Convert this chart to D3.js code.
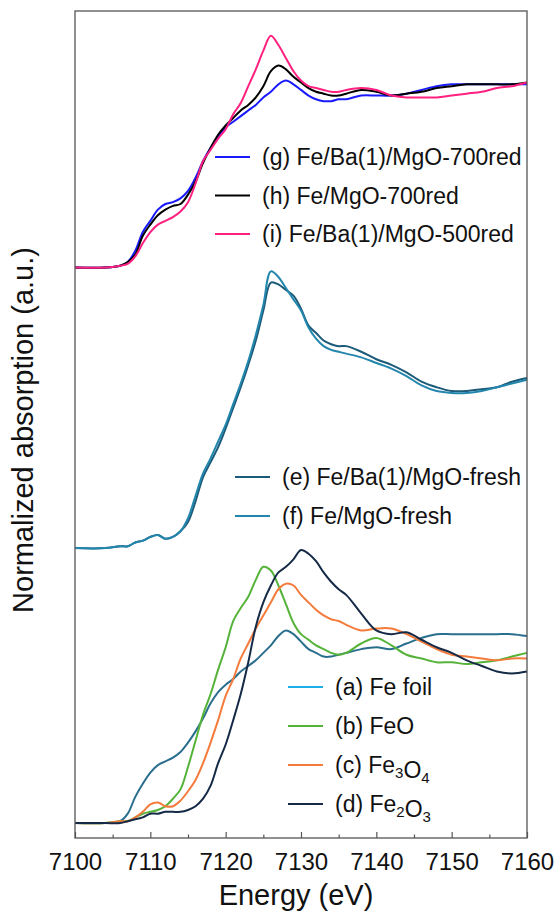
<!DOCTYPE html>
<html>
<head>
<meta charset="utf-8">
<script src="https://cdn.jsdelivr.net/npm/d3@7"></script>
<style>
  body { margin: 0; background: #fff; }
  text { font-family: Arial, "Liberation Sans", sans-serif; fill: #111; }
</style>
</head>
<body>
<div id="chart"></div>
<script>
// energy grid (eV) shared by every spectrum
var energy = [7100,7104,7106,7107,7108,7109,7110,7111,7112,7113,7114,7115,7116,7117,7118,7119,7120,7121,7122,7123,7124,7125,7126,7127,7128,7129,7130,7131,7132,7133,7134,7135,7136,7138,7140,7142,7144,7146,7148,7150,7152,7154,7156,7158,7160];

// bottom group: references
var feFoil = [0.00,0.00,0.01,0.05,0.14,0.21,0.27,0.31,0.33,0.35,0.38,0.43,0.49,0.56,0.64,0.70,0.74,0.77,0.81,0.84,0.87,0.91,0.95,1.00,1.03,1.01,0.97,0.93,0.91,0.89,0.89,0.90,0.91,0.93,0.94,0.93,0.96,0.99,1.01,1.01,1.01,1.01,1.01,1.01,1.00];
var feO = [0.00,0.00,0.01,0.01,0.03,0.05,0.06,0.07,0.09,0.13,0.18,0.30,0.44,0.58,0.69,0.82,0.94,1.08,1.15,1.21,1.30,1.37,1.35,1.27,1.17,1.07,1.01,0.98,0.95,0.93,0.91,0.90,0.91,0.96,0.99,0.95,0.90,0.88,0.86,0.86,0.85,0.86,0.87,0.89,0.91];
var fe3O4 = [0.00,0.00,0.01,0.01,0.03,0.06,0.10,0.11,0.09,0.09,0.12,0.17,0.23,0.32,0.43,0.55,0.68,0.77,0.88,0.96,1.04,1.11,1.18,1.25,1.28,1.27,1.22,1.18,1.14,1.11,1.09,1.08,1.06,1.03,1.04,1.04,1.01,0.97,0.93,0.90,0.89,0.88,0.87,0.88,0.88];
var fe2O3 = [0.00,0.00,0.00,0.01,0.02,0.03,0.05,0.05,0.06,0.06,0.06,0.07,0.09,0.13,0.20,0.32,0.42,0.55,0.69,0.86,1.05,1.18,1.27,1.34,1.37,1.41,1.46,1.44,1.40,1.34,1.29,1.25,1.22,1.12,1.03,1.01,1.02,0.98,0.94,0.91,0.87,0.84,0.81,0.80,0.81];

// middle group: fresh catalysts
var freshBaMg = [0.00,0.00,0.01,0.01,0.03,0.04,0.06,0.07,0.05,0.06,0.09,0.14,0.25,0.38,0.46,0.54,0.64,0.75,0.86,0.98,1.11,1.27,1.42,1.41,1.38,1.35,1.28,1.19,1.15,1.11,1.09,1.08,1.08,1.05,1.01,0.98,0.94,0.89,0.86,0.84,0.84,0.85,0.86,0.89,0.91];
var freshMg = [0.00,0.00,0.01,0.01,0.03,0.04,0.06,0.07,0.05,0.06,0.09,0.16,0.28,0.40,0.48,0.57,0.66,0.77,0.88,1.00,1.14,1.30,1.48,1.45,1.39,1.33,1.27,1.18,1.12,1.08,1.06,1.05,1.04,1.02,0.99,0.96,0.92,0.87,0.84,0.83,0.83,0.84,0.86,0.88,0.90];

// top group: reduced catalysts
var red700BaMg = [0.00,0.00,0.01,0.03,0.09,0.19,0.25,0.31,0.34,0.35,0.37,0.41,0.48,0.57,0.64,0.70,0.75,0.78,0.81,0.84,0.87,0.91,0.94,0.98,1.00,0.98,0.95,0.92,0.90,0.89,0.89,0.90,0.90,0.92,0.92,0.92,0.93,0.95,0.97,0.98,0.98,0.98,0.98,0.98,0.98];
var red700Mg = [0.00,0.00,0.01,0.03,0.07,0.17,0.23,0.28,0.31,0.33,0.34,0.39,0.46,0.56,0.64,0.71,0.76,0.80,0.84,0.87,0.91,0.97,1.05,1.08,1.06,1.02,0.99,0.96,0.94,0.93,0.92,0.92,0.93,0.95,0.94,0.92,0.93,0.94,0.96,0.97,0.98,0.98,0.98,0.98,0.99];
var red500BaMg = [0.00,0.00,0.01,0.02,0.06,0.13,0.19,0.23,0.25,0.27,0.30,0.35,0.45,0.57,0.63,0.69,0.74,0.82,0.88,0.97,1.06,1.16,1.24,1.19,1.12,1.05,1.00,0.97,0.96,0.95,0.94,0.94,0.95,0.96,0.95,0.92,0.91,0.91,0.91,0.92,0.93,0.94,0.96,0.97,0.99];

// vertical offsets of the three stacks
var offsets = [0, 1.47, 2.97];

var xTicks = [7100, 7110, 7120, 7130, 7140, 7150, 7160];

// legend labels ("_n" = subscript)
var labelsRed = ["(g) Fe/Ba(1)/MgO-700red", "(h) Fe/MgO-700red", "(i) Fe/Ba(1)/MgO-500red"];
var labelsFresh = ["(e) Fe/Ba(1)/MgO-fresh", "(f) Fe/MgO-fresh"];
var labelsRef = ["(a) Fe foil", "(b) FeO", "(c) Fe_3O_4", "(d) Fe_2O_3"];

var colRed = ["#1a1aff", "#000000", "#ff2080"];
var colFresh = ["#1b5a78", "#2386ad"];
var colRef = ["#2a6e8e", "#55b339", "#f47b3b", "#152a47"];
var colRefLegend = ["#1cb0ea", "#55b339", "#f47b3b", "#152a47"];

var margin = {top: 11, right: 31, bottom: 78, left: 75},
    W = 558, H = 916,
    width = W - margin.left - margin.right,
    height = H - margin.top - margin.bottom;

var svg = d3.select("#chart").append("svg")
  .attr("width", W).attr("height", H)
  .append("g")
  .attr("transform", "translate(" + margin.left + "," + margin.top + ")");

var x = d3.scaleLinear().domain([7100, 7160]).range([0, width]);
var y = d3.scaleLinear().domain([-0.08, 4.342]).range([height, 0]);

var line = d3.line()
  .curve(d3.curveCatmullRom.alpha(0.5))
  .x(function(d) { return x(d[0]); })
  .y(function(d) { return y(d[1]); });

function drawGroup(seriesList, colors, off) {
  seriesList.forEach(function(s, k) {
    var pts = energy.map(function(e, i) { return [e, s[i] + off]; });
    svg.append("path")
      .datum(pts)
      .attr("fill", "none")
      .attr("stroke", colors[k])
      .attr("stroke-width", 2)
      .attr("stroke-linejoin", "round")
      .attr("d", line);
  });
}

drawGroup([feFoil, feO, fe3O4, fe2O3], colRef, offsets[0]);
drawGroup([freshBaMg, freshMg], colFresh, offsets[1]);
drawGroup([red700BaMg, red700Mg, red500BaMg], colRed, offsets[2]);

// frame
svg.append("rect")
  .attr("x", 0).attr("y", 0)
  .attr("width", width).attr("height", height)
  .attr("fill", "none")
  .attr("stroke", "#555")
  .attr("stroke-width", 1.3);

// bottom axis, inward ticks
var xAxis = svg.append("g")
  .attr("transform", "translate(0," + height + ")")
  .call(d3.axisBottom(x).tickValues(xTicks).tickSize(-6).tickPadding(15).tickFormat(d3.format("d")));
xAxis.select(".domain").remove();
xAxis.selectAll(".tick line").attr("stroke", "#555").attr("stroke-width", 1.2);
xAxis.selectAll(".tick text")
  .style("font-size", "24px")
  .attr("fill", "#111");

var minor = svg.append("g")
  .attr("transform", "translate(0," + height + ")")
  .call(d3.axisBottom(x).tickValues(d3.range(7105, 7160, 10)).tickSize(-3.5).tickFormat(""));
minor.select(".domain").remove();
minor.selectAll(".tick line").attr("stroke", "#555").attr("stroke-width", 1.2);

// axis titles
svg.append("text")
  .attr("x", width / 2 - 5)
  .attr("y", height + 67)
  .attr("text-anchor", "middle")
  .style("font-size", "29px")
  .text("Energy (eV)");

svg.append("text")
  .attr("transform", "rotate(-90)")
  .attr("x", -(430 - margin.top))
  .attr("y", 33 - margin.left)
  .attr("text-anchor", "middle")
  .style("font-size", "29px")
  .text("Normalized absorption (a.u.)");

// legends
function legend(labels, colors, x0, y0, gap) {
  labels.forEach(function(lab, k) {
    var yy = y0 + k * gap - margin.top;
    var lx = x0 - margin.left;
    svg.append("line")
      .attr("x1", lx).attr("x2", lx + 35)
      .attr("y1", yy).attr("y2", yy)
      .attr("stroke", colors[k])
      .attr("stroke-width", 2.2);
    var t = svg.append("text")
      .attr("x", lx + 47)
      .attr("y", yy + 8)
      .style("font-size", "23px");
    lab.split(/_(\d)/).forEach(function(part, j) {
      if (part === "") return;
      if (j % 2 === 1) {
        t.append("tspan").attr("dy", 5).style("font-size", "15px").text(part);
        t.append("tspan").attr("dy", -5).text("");
      } else {
        t.append("tspan").text(part);
      }
    });
  });
}

legend(labelsRed, colRed, 215, 157, 38.5);
legend(labelsFresh, colFresh, 235, 477, 39);
legend(labelsRef, colRefLegend, 288, 687, 39);
</script>
</body>
</html>
